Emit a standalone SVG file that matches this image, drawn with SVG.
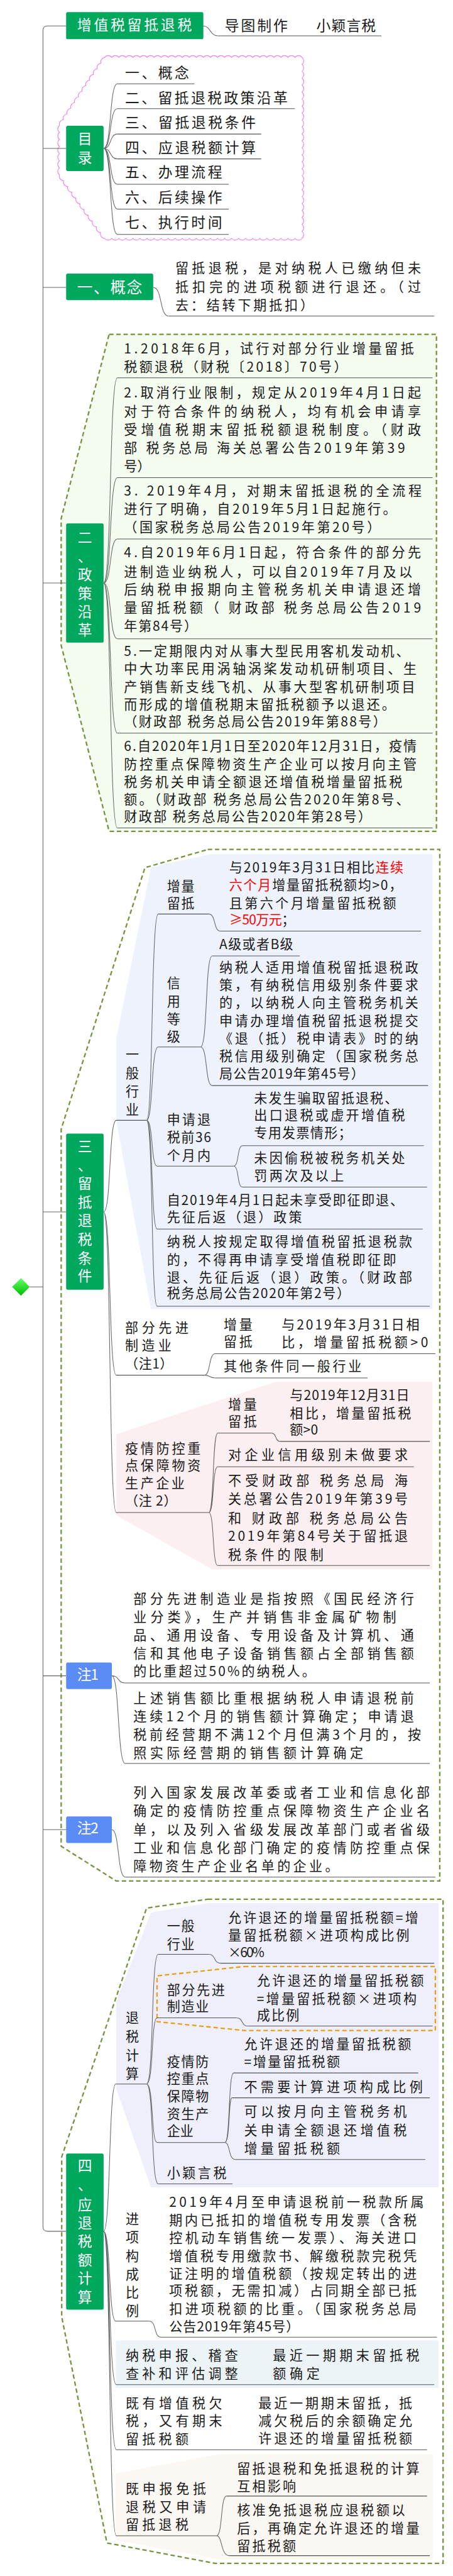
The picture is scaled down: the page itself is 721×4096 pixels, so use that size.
<svg xmlns="http://www.w3.org/2000/svg" width="721" height="4096" viewBox="0 0 721 4096">
<defs>
<style>
text{font-family:"Noto Sans CJK SC","Noto Sans",sans-serif;font-size:24px;fill:#1a1a1a}
.w{fill:#fff;font-size:26px}
.v{text-anchor:middle}
.s26{font-size:26px}
.red{fill:#f00}
.ul{stroke:#555;stroke-width:1.2;fill:none}
.cn{stroke:#666;stroke-width:1.2;fill:none}
.g{fill:#00A85E}
.b{fill:#5B8CF6}
.dash{fill:none;stroke:#76923C;stroke-width:2.6;stroke-dasharray:8 5}
</style>
<linearGradient id="dg" x1="0" y1="0" x2="0" y2="1"><stop offset="0" stop-color="#66ff66"/><stop offset="1" stop-color="#00bb00"/></linearGradient>
</defs>
<rect width="721" height="4096" fill="#fff"/>
<g transform="scale(0.8771)">

<g id="backgrounds">
<polygon class="dash" style="fill:#F4FBEF" points="198,606 792,606 792,1507 198,1507 111,1170 111,940"/>
<polygon class="dash" points="377,1540 798,1540 798,3410 211,3410 111,3347 111,2047 263,1573"/>
<polygon fill="#EEF2FC" points="385,1548 785,1548 785,2373 274,2373 211,2032 211,1883 274,1572"/>
<polygon fill="#FCEFF1" points="500,2505 785,2505 785,2845 385,2845 211,2747 211,2600"/>
<polygon class="dash" points="377,3443 804,3443 804,4647 390,4647 194,4610 112,4200 112,3910 266,3459"/>
<polygon fill="#EFEFFB" points="379,3450 796,3450 796,3965 274,3965 211,3787 211,3628 274,3467"/>
<rect x="210" y="4243" width="586" height="86" fill="#EDF4F8"/>
<polygon fill="#FBF7F2" points="398,4449 786,4449 786,4640 400,4640 210,4605 210,4484"/>
<polygon fill="none" stroke="#E5A01B" stroke-width="2.6" stroke-dasharray="8 5" points="443,3565 790,3565 790,3681 443,3681 285,3665 285,3582"/>
<path fill="none" stroke="#F080F0" stroke-width="1.3" d="M190,104a8 8 0 0 1 12.79 0a8 8 0 0 1 12.79 0a8 8 0 0 1 12.79 0a8 8 0 0 1 12.79 0a8 8 0 0 1 12.79 0a8 8 0 0 1 12.79 0a8 8 0 0 1 12.79 0a8 8 0 0 1 12.79 0a8 8 0 0 1 12.79 0a8 8 0 0 1 12.79 0a8 8 0 0 1 12.79 0a8 8 0 0 1 12.79 0a8 8 0 0 1 12.79 0a8 8 0 0 1 12.79 0a8 8 0 0 1 12.79 0a8 8 0 0 1 12.79 0a8 8 0 0 1 12.79 0a8 8 0 0 1 12.79 0a8 8 0 0 1 12.79 0a8 8 0 0 1 12.79 0a8 8 0 0 1 12.79 0a8 8 0 0 1 12.79 0a8 8 0 0 1 12.79 0a8 8 0 0 1 12.79 0a8 8 0 0 1 12.79 0a8 8 0 0 1 12.79 0a8 8 0 0 1 12.79 0a8 8 0 0 1 12.79 0a8 8 0 0 1 0 12.62a8 8 0 0 1 0 12.62a8 8 0 0 1 0 12.62a8 8 0 0 1 0 12.62a8 8 0 0 1 0 12.62a8 8 0 0 1 0 12.62a8 8 0 0 1 0 12.62a8 8 0 0 1 0 12.62a8 8 0 0 1 0 12.62a8 8 0 0 1 0 12.62a8 8 0 0 1 0 12.62a8 8 0 0 1 0 12.62a8 8 0 0 1 0 12.62a8 8 0 0 1 0 12.62a8 8 0 0 1 0 12.62a8 8 0 0 1 0 12.62a8 8 0 0 1 0 12.62a8 8 0 0 1 0 12.62a8 8 0 0 1 0 12.62a8 8 0 0 1 0 12.62a8 8 0 0 1 0 12.62a8 8 0 0 1 0 12.62a8 8 0 0 1 0 12.62a8 8 0 0 1 0 12.62a8 8 0 0 1 0 12.62a8 8 0 0 1 0 12.62a8 8 0 0 1 -12.79 0a8 8 0 0 1 -12.79 0a8 8 0 0 1 -12.79 0a8 8 0 0 1 -12.79 0a8 8 0 0 1 -12.79 0a8 8 0 0 1 -12.79 0a8 8 0 0 1 -12.79 0a8 8 0 0 1 -12.79 0a8 8 0 0 1 -12.79 0a8 8 0 0 1 -12.79 0a8 8 0 0 1 -12.79 0a8 8 0 0 1 -12.79 0a8 8 0 0 1 -12.79 0a8 8 0 0 1 -12.79 0a8 8 0 0 1 -12.79 0a8 8 0 0 1 -12.79 0a8 8 0 0 1 -12.79 0a8 8 0 0 1 -12.79 0a8 8 0 0 1 -12.79 0a8 8 0 0 1 -12.79 0a8 8 0 0 1 -12.79 0a8 8 0 0 1 -12.79 0a8 8 0 0 1 -12.79 0a8 8 0 0 1 -12.79 0a8 8 0 0 1 -12.79 0a8 8 0 0 1 -12.79 0a8 8 0 0 1 -12.79 0a8 8 0 0 1 -12.79 0a8 8 0 0 1 -7.45 -10.45a8 8 0 0 1 -7.45 -10.45a8 8 0 0 1 -7.45 -10.45a8 8 0 0 1 -7.45 -10.45a8 8 0 0 1 -7.45 -10.45a8 8 0 0 1 -7.45 -10.45a8 8 0 0 1 -7.45 -10.45a8 8 0 0 1 -7.45 -10.45a8 8 0 0 1 -7.45 -10.45a8 8 0 0 1 -7.45 -10.45a8 8 0 0 1 -7.45 -10.45a8 8 0 0 1 0 -12.86a8 8 0 0 1 0 -12.86a8 8 0 0 1 0 -12.86a8 8 0 0 1 0 -12.86a8 8 0 0 1 0 -12.86a8 8 0 0 1 0 -12.86a8 8 0 0 1 0 -12.86a8 8 0 0 1 6.83 -10.25a8 8 0 0 1 6.83 -10.25a8 8 0 0 1 6.83 -10.25a8 8 0 0 1 6.83 -10.25a8 8 0 0 1 6.83 -10.25a8 8 0 0 1 6.83 -10.25a8 8 0 0 1 6.83 -10.25a8 8 0 0 1 6.83 -10.25a8 8 0 0 1 6.83 -10.25a8 8 0 0 1 6.83 -10.25a8 8 0 0 1 6.83 -10.25a8 8 0 0 1 6.83 -10.25Z"/>
</g>

<g id="connectors">
<path class="cn" d="M120,47L86,47Q78,47 78,55L78,4037Q78,4045 86,4045L120,4045"/>
<path class="cn" d="M78,269H120M78,521H120M78,1057H120M78,2197H120M78,3038H120M78,3317H120M54,2333H78"/>
<path class="cn" d="M369,47C382,47 381,65 395,65"/>
<path class="cn" d="M188,269C203,269 198,152 213,152M188,269C203,269 198,197 213,197M188,269C203,269 198,243 213,243M188,269C203,269 198,288 213,288M188,269C203,269 198,334 213,334M188,269C203,269 198,379 213,379M188,269C203,269 198,425 213,425"/>
<path class="cn" d="M278,521C295,521 289,573 306,573"/>
<path class="cn" d="M188,1057C203,1057 198,685 213,685M188,1057C203,1057 198,866 213,866M188,1057C203,1057 198,977 213,977M188,1057C203,1057 198,1158 213,1158M188,1057C203,1057 198,1329 213,1329M188,1057C203,1057 198,1501 213,1501"/>
<path class="cn" d="M188,2197C202,2197 197,2031 211,2031M188,2197C202,2197 197,2493 211,2493M188,2197C202,2197 197,2742 211,2742"/>
<path class="cn" d="M266,2031C278,2031 274,1657 287,1657M266,2031C278,2031 274,1898 287,1898M266,2031C278,2031 274,2114 285,2114M266,2031C278,2031 274,2228 285,2228M266,2031C278,2031 274,2368 285,2368"/>
<path class="cn" d="M379,1657C392,1657 387,1688 400,1688"/>
<path class="cn" d="M364,1898C377,1898 372,1733 385,1733M364,1898C377,1898 372,1968 385,1968"/>
<path class="cn" d="M424,2114C434,2114 430,2077 440,2077M424,2114C434,2114 430,2152 440,2152"/>
<path class="cn" d="M371,2493C382,2493 379,2454 390,2454M371,2493C382,2493 379,2498 390,2498"/>
<path class="cn" d="M379,2742C389,2742 385,2598 395,2598M379,2742C389,2742 385,2659 395,2659M379,2742C389,2742 385,2838 395,2838"/>
<path class="cn" d="M493,2598C502,2598 499,2613 508,2613"/>
<path class="cn" d="M203,3038C217,3038 213,3051 227,3051M203,3038C217,3038 213,3197 227,3197"/>
<path class="cn" d="M203,3317C217,3317 213,3403 227,3403"/>
<path class="cn" d="M188,4045C201,4045 197,3778 210,3778M188,4045C201,4045 197,4208 210,4208M188,4045C201,4045 197,4323 211,4323M188,4045C201,4045 197,4441 211,4441M188,4045C201,4045 197,4597 211,4597"/>
<path class="cn" d="M266,3778C279,3778 274,3543 287,3543M266,3778C279,3778 274,3658 285,3658M266,3778C279,3778 274,3884 285,3884M266,3778C279,3778 274,3959 287,3959"/>
<path class="cn" d="M379,3543C392,3543 387,3559 400,3559"/>
<path class="cn" d="M429,3658C442,3658 437,3673 450,3673"/>
<path class="cn" d="M408,3884C418,3884 414,3758 424,3758M408,3884C418,3884 414,3803 421,3803M408,3884C418,3884 414,3915 427,3915"/>
<path class="cn" d="M271,4208C284,4208 279,4237 292,4237"/>
<path class="cn" d="M393,4597C404,4597 400,4525 411,4525M393,4597C404,4597 400,4633 416,4633"/>
</g>

<g id="root"><polygon points="38,2317 54,2333 38,2349 22,2333" fill="url(#dg)"/></g>

<g id="title">
<rect class="g" x="120" y="22" width="249" height="49" rx="3"/>
<text class="w" x="140" y="55" textLength="208">增值税留抵退税</text>
</g>
<g id="author">
<path class="ul" d="M395,65H692"/>
<text class="s26" x="408" y="56" textLength="114">导图制作</text>
<text class="s26" x="574" y="56" textLength="108">小颖言税</text>
</g>

<g id="toc">
<rect class="g" x="120" y="228" width="68" height="82" rx="3"/>
<text class="w v" x="154" y="261">目</text>
<text class="w v" x="154" y="295">录</text>
</g>
<g id="toc-items">
<path class="ul" d="M213,152H353M213,197H535M213,243H474M213,288H474M213,334H415M213,379H415M213,425H415"/>
<text class="s26" x="227" y="141" textLength="116">一、概念</text>
<text class="s26" x="227" y="187" textLength="295">二、留抵退税政策沿革</text>
<text class="s26" x="227" y="232" textLength="237">三、留抵退税条件</text>
<text class="s26" x="227" y="277" textLength="237">四、应退税额计算</text>
<text class="s26" x="227" y="322" textLength="176">五、办理流程</text>
<text class="s26" x="227" y="367" textLength="176">六、后续操作</text>
<text class="s26" x="227" y="413" textLength="176">七、执行时间</text>
</g>

<g id="s1">
<rect class="g" x="120" y="496" width="158" height="48" rx="3"/>
<text class="w" style="font-size:28px" x="140" y="531" textLength="118">一、概念</text>
</g>
<g id="s1-def">
<path class="ul" d="M306,573H788"/>
<text x="318" y="495" textLength="446">留抵退税，是对纳税人已缴纳但未</text>
<text x="318" y="529" textLength="446">抵扣完的进项税额进行退还。（过</text>
<text x="318" y="562" textLength="251">去：结转下期抵扣）</text>
</g>

<g id="s2">
<rect class="g" x="120" y="949" width="68" height="216" rx="3"/>
<text class="w v" x="154" y="984">二</text>
<text class="w v" x="154" y="1018">、</text>
<text class="w v" x="154" y="1051">政</text>
<text class="w v" x="154" y="1085">策</text>
<text class="w v" x="154" y="1118">沿</text>
<text class="w v" x="154" y="1152">革</text>
</g>
<g id="s2-items">
<path class="ul" d="M213,685H785M213,866H785M213,977H785M213,1158H785M213,1329H785M213,1501H785"/>
<text x="225" y="641" textLength="526">1.2018年6月，试行对部分行业增量留抵</text>
<text x="225" y="674" textLength="405">税额退税（财税〔2018〕70号）</text>
<text x="225" y="721" textLength="539">2.取消行业限制，规定从2019年4月1日起</text>
<text x="225" y="755" textLength="539">对于符合条件的纳税人，均有机会申请享</text>
<text x="225" y="788" textLength="539">受增值税期末留抵税额退税制度。（财政</text>
<text x="225" y="821" textLength="510">部 税务总局 海关总署公告2019年第39</text>
<text x="225" y="854">号）</text>
<text x="225" y="898" textLength="540">3. 2019年4月，对期末留抵退税的全流程</text>
<text x="225" y="932" textLength="494">进行了明确，自2019年5月1日起施行。</text>
<text x="225" y="965" textLength="465">（国家税务总局公告2019年第20号）</text>
<text x="225" y="1010" textLength="539">4.自2019年6月1日起，符合条件的部分先</text>
<text x="225" y="1045" textLength="523">进制造业纳税人，可以自2019年7月及以</text>
<text x="225" y="1078" textLength="539">后纳税申报期向主管税务机关申请退还增</text>
<text x="225" y="1111" textLength="539">量留抵税额（ 财政部 税务总局公告2019</text>
<text x="225" y="1143" textLength="133">年第84号）</text>
<text x="225" y="1189" textLength="518">5.一定期限内对从事大型民用客机发动机、</text>
<text x="225" y="1221" textLength="531">中大功率民用涡轴涡桨发动机研制项目、生</text>
<text x="225" y="1254" textLength="528">产销售新支线飞机、从事大型客机研制项目</text>
<text x="225" y="1286" textLength="492">而形成的增值税期末留抵税额予以退还。</text>
<text x="225" y="1317" textLength="476">（财政部 税务总局公告2019年第88号）</text>
<text x="225" y="1361" textLength="531">6.自2020年1月1日至2020年12月31日，疫情</text>
<text x="225" y="1394" textLength="531">防控重点保障物资生产企业可以按月向主管</text>
<text x="225" y="1426" textLength="505">税务机关申请全额退还增值税增量留抵税</text>
<text x="225" y="1458" textLength="518">额。（财政部 税务总局公告2020年第8号、</text>
<text x="225" y="1489" textLength="449">财政部 税务总局公告2020年第28号）</text>
</g>

<g id="s3">
<rect class="g" x="120" y="2055" width="68" height="283" rx="3"/>
<text class="w v" x="154" y="2088">三</text>
<text class="w v" x="154" y="2122">、</text>
<text class="w v" x="154" y="2155">留</text>
<text class="w v" x="154" y="2189">抵</text>
<text class="w v" x="154" y="2222">退</text>
<text class="w v" x="154" y="2256">税</text>
<text class="w v" x="154" y="2290">条</text>
<text class="w v" x="154" y="2323">件</text>
</g>
<g id="s3-general">
<path class="ul" d="M211,2031H266"/>
<text class="v" x="240" y="1920">一</text>
<text class="v" x="240" y="1954">般</text>
<text class="v" x="240" y="1987">行</text>
<text class="v" x="240" y="2020">业</text>
</g>
<g id="s3-g-incr">
<path class="ul" d="M287,1657H379"/>
<text x="303" y="1615" textLength="50">增量</text>
<text x="303" y="1646" textLength="50">留抵</text>
</g>
<g id="s3-g-incr-rule">
<path class="ul" d="M400,1688H764"/>
<text x="416" y="1581" textLength="316">与2019年3月31日相比<tspan class="red">连续</tspan></text>
<text x="416" y="1613" textLength="314"><tspan class="red">六个月</tspan>增量留抵税额均&gt;0，</text>
<text x="416" y="1646" textLength="303">且第六个月增量留抵税额</text>
<text x="416" y="1676" textLength="119"><tspan class="red">≥50万元</tspan>；</text>
</g>
<g id="s3-g-credit">
<path class="ul" d="M287,1898H364"/>
<text class="v" x="315" y="1791">信</text>
<text class="v" x="315" y="1824">用</text>
<text class="v" x="315" y="1856">等</text>
<text class="v" x="315" y="1888">级</text>
</g>
<g id="s3-g-credit-ab">
<path class="ul" d="M385,1733H544"/>
<text x="398" y="1720" textLength="134">A级或者B级</text>
</g>
<g id="s3-g-credit-note">
<path class="ul" d="M385,1968H777"/>
<text x="398" y="1763" textLength="361">纳税人适用增值税留抵退税政</text>
<text x="398" y="1795" textLength="361">策，有纳税信用级别条件要求</text>
<text x="398" y="1826" textLength="361">的，以纳税人向主管税务机关</text>
<text x="398" y="1860" textLength="361">申请办理增值税留抵退税提交</text>
<text x="398" y="1891" textLength="361">《退（抵）税申请表》时的纳</text>
<text x="398" y="1923" textLength="361">税信用级别确定（国家税务总</text>
<text x="398" y="1955" textLength="263">局公告2019年第45号）</text>
</g>
<g id="s3-g-36m">
<path class="ul" d="M285,2114H424"/>
<text x="303" y="2038" textLength="79">申请退</text>
<text x="303" y="2070" textLength="80">税前36</text>
<text x="303" y="2103" textLength="79">个月内</text>
</g>
<g id="s3-g-36m-a">
<path class="ul" d="M440,2077H769"/>
<text x="461" y="2000" textLength="261">未发生骗取留抵退税、</text>
<text x="461" y="2031" textLength="274">出口退税或虚开增值税</text>
<text x="461" y="2063" textLength="177">专用发票情形；</text>
</g>
<g id="s3-g-36m-b">
<path class="ul" d="M440,2152H775"/>
<text x="461" y="2108" textLength="274">未因偷税被税务机关处</text>
<text x="461" y="2140" textLength="163">罚两次及以上</text>
</g>
<g id="s3-g-policy">
<path class="ul" d="M285,2228H767"/>
<text x="303" y="2185" textLength="429">自2019年4月1日起未享受即征即退、</text>
<text x="303" y="2215" textLength="245">先征后返（退）政策</text>
</g>
<g id="s3-g-after">
<path class="ul" d="M285,2368H780"/>
<text x="303" y="2260" textLength="445">纳税人按规定取得增值税留抵退税款</text>
<text x="303" y="2293" textLength="416">的，不得再申请享受增值税即征即</text>
<text x="303" y="2325" textLength="445">退、先征后返（退）政策。（财政部</text>
<text x="303" y="2353" textLength="332">税务总局公告2020年第2号）</text>
</g>
<g id="s3-adv">
<path class="ul" d="M211,2493H371"/>
<text x="227" y="2416" textLength="115">部分先进</text>
<text x="227" y="2448" textLength="84">制造业</text>
<text x="227" y="2481" textLength="87">（注1）</text>
</g>
<g id="s3-adv-incr">
<path class="ul" d="M390,2454H790"/>
<text x="406" y="2410" textLength="52">增量</text>
<text x="406" y="2441" textLength="52">留抵</text>
<text x="511" y="2410" textLength="250">与2019年3月31日相</text>
<text x="511" y="2442" textLength="266">比，增量留抵税额&gt;0</text>
</g>
<g id="s3-adv-other">
<path class="ul" d="M390,2498H667"/>
<text x="406" y="2486" textLength="250">其他条件同一般行业</text>
</g>
<g id="s3-epi">
<path class="ul" d="M211,2742H379"/>
<text x="227" y="2635" textLength="137">疫情防控重</text>
<text x="227" y="2666" textLength="137">点保障物资</text>
<text x="227" y="2698" textLength="108">生产企业</text>
<text x="227" y="2730" textLength="94">（注 2）</text>
</g>
<g id="s3-epi-incr">
<path class="ul" d="M395,2598H493"/>
<text x="414" y="2555" textLength="52">增量</text>
<text x="414" y="2586" textLength="52">留抵</text>
</g>
<g id="s3-epi-incr-rule">
<path class="ul" d="M508,2613H780"/>
<text x="526" y="2538" textLength="217">与2019年12月31日</text>
<text x="526" y="2571" textLength="220">相比，增量留抵税</text>
<text x="526" y="2601" textLength="51">额&gt;0</text>
</g>
<g id="s3-epi-credit">
<path class="ul" d="M395,2659H751"/>
<text x="414" y="2646" textLength="326">对企业信用级别未做要求</text>
</g>
<g id="s3-epi-limit">
<path class="ul" d="M395,2838H780"/>
<text x="414" y="2693" textLength="326">不受财政部 税务总局 海</text>
<text x="414" y="2726" textLength="326">关总署公告2019年第39号</text>
<text x="414" y="2761" textLength="326">和 财政部 税务总局公告</text>
<text x="414" y="2793" textLength="326">2019年第84号关于留抵退</text>
<text x="414" y="2828" textLength="173">税条件的限制</text>
</g>

<g id="note1">
<rect class="b" x="120" y="3014" width="83" height="48" rx="3"/>
<text class="w" x="140" y="3045" textLength="39">注1</text>
</g>
<g id="note1-a">
<path class="ul" d="M227,3051H780"/>
<text x="242" y="2907" textLength="509">部分先进制造业是指按照《国民经济行</text>
<text x="242" y="2940" textLength="477">业分类》，生产并销售非金属矿物制</text>
<text x="242" y="2973" textLength="509">品、通用设备、专用设备及计算机、通</text>
<text x="242" y="3006" textLength="509">信和其他电子设备销售额占全部销售额</text>
<text x="242" y="3039" textLength="330">的比重超过50%的纳税人。</text>
</g>
<g id="note1-b">
<path class="ul" d="M227,3197H780"/>
<text x="242" y="3087" textLength="509">上述销售额比重根据纳税人申请退税前</text>
<text x="242" y="3121" textLength="509">连续12个月的销售额计算确定；申请退</text>
<text x="242" y="3154" textLength="522">税前经营期不满12个月但满3个月的，按</text>
<text x="242" y="3187" textLength="417">照实际经营期的销售额计算确定</text>
</g>
<g id="note2">
<rect class="b" x="120" y="3293" width="83" height="48" rx="3"/>
<text class="w" x="140" y="3324" textLength="39">注2</text>
</g>
<g id="note2-a">
<path class="ul" d="M227,3403H790"/>
<text x="242" y="3259" textLength="538">列入国家发展改革委或者工业和信息化部</text>
<text x="242" y="3292" textLength="538">确定的疫情防控重点保障物资生产企业名</text>
<text x="242" y="3326" textLength="538">单，以及列入省级发展改革部门或者省级</text>
<text x="242" y="3359" textLength="538">工业和信息化部门确定的疫情防控重点保</text>
<text x="242" y="3392" textLength="372">障物资生产企业名单的企业。</text>
</g>

<g id="s4">
<rect class="g" x="120" y="3904" width="68" height="283" rx="3"/>
<text class="w v" x="154" y="3936">四</text>
<text class="w v" x="154" y="3970">、</text>
<text class="w v" x="154" y="4006">应</text>
<text class="w v" x="154" y="4040">退</text>
<text class="w v" x="154" y="4073">税</text>
<text class="w v" x="154" y="4107">额</text>
<text class="w v" x="154" y="4140">计</text>
<text class="w v" x="154" y="4174">算</text>
</g>
<g id="s4-calc">
<path class="ul" d="M210,3778H266"/>
<text class="v" x="240" y="3667">退</text>
<text class="v" x="240" y="3701">税</text>
<text class="v" x="240" y="3735">计</text>
<text class="v" x="240" y="3768">算</text>
</g>
<g id="s4-calc-general">
<path class="ul" d="M287,3543H379"/>
<text x="303" y="3500" textLength="50">一般</text>
<text x="303" y="3533" textLength="50">行业</text>
</g>
<g id="s4-calc-general-f">
<path class="ul" d="M400,3559H788"/>
<text x="414" y="3485" textLength="345">允许退还的增量留抵税额=增</text>
<text x="414" y="3517" textLength="329">量留抵税额×进项构成比例</text>
<text x="414" y="3548" textLength="66">×60%</text>
</g>
<g id="s4-calc-adv">
<path class="ul" d="M285,3658H429"/>
<text x="303" y="3616" textLength="105">部分先进</text>
<text x="303" y="3646" textLength="76">制造业</text>
</g>
<g id="s4-calc-adv-f">
<path class="ul" d="M450,3673H785"/>
<text x="466" y="3599" textLength="303">允许退还的增量留抵税额</text>
<text x="466" y="3632" textLength="290">=增量留抵税额×进项构</text>
<text x="466" y="3662" textLength="77">成比例</text>
</g>
<g id="s4-calc-epi">
<path class="ul" d="M285,3884H408"/>
<text x="303" y="3746" textLength="76">疫情防</text>
<text x="303" y="3777" textLength="76">控重点</text>
<text x="303" y="3809" textLength="76">保障物</text>
<text x="303" y="3841" textLength="76">资生产</text>
<text x="303" y="3872">企业</text>
</g>
<g id="s4-calc-epi-a">
<path class="ul" d="M424,3758H759"/>
<text x="443" y="3714" textLength="303">允许退还的增量留抵税额</text>
<text x="443" y="3746" textLength="174">=增量留抵税额</text>
</g>
<g id="s4-calc-epi-b">
<path class="ul" d="M421,3803H780"/>
<text x="443" y="3792" textLength="324">不需要计算进项构成比例</text>
</g>
<g id="s4-calc-epi-c">
<path class="ul" d="M427,3915H772"/>
<text x="443" y="3836" textLength="295">可以按月向主管税务机</text>
<text x="443" y="3871" textLength="295">关申请全额退还增值税</text>
<text x="443" y="3904" textLength="174">增量留抵税额</text>
</g>
<g id="s4-calc-brand">
<path class="ul" d="M287,3959H422"/>
<text x="303" y="3948" textLength="108">小颖言税</text>
</g>
<g id="s4-ratio">
<path class="ul" d="M210,4208H271"/>
<text class="v" x="240" y="4031">进</text>
<text class="v" x="240" y="4065">项</text>
<text class="v" x="240" y="4099">构</text>
<text class="v" x="240" y="4132">成</text>
<text class="v" x="240" y="4165">比</text>
<text class="v" x="240" y="4198">例</text>
</g>
<g id="s4-ratio-def">
<path class="ul" d="M292,4237H793"/>
<text x="307" y="4001" textLength="462">2019年4月至申请退税前一税款所属</text>
<text x="307" y="4034" textLength="449">期内已抵扣的增值税专用发票（含税</text>
<text x="307" y="4066" textLength="449">控机动车销售统一发票）、海关进口</text>
<text x="307" y="4099" textLength="449">增值税专用缴款书、解缴税款完税凭</text>
<text x="307" y="4131" textLength="449">证注明的增值税额（按规定转出的进</text>
<text x="307" y="4162" textLength="449">项税额，无需扣减）占同期全部已抵</text>
<text x="307" y="4194" textLength="449">扣进项税额的比重。（国家税务总局</text>
<text x="307" y="4226" textLength="236">公告2019年第45号）</text>
</g>
<g id="s4-audit">
<path class="ul" d="M211,4323H788"/>
<text x="228" y="4279" textLength="204">纳税申报、稽查</text>
<text x="228" y="4312" textLength="204">查补和评估调整</text>
<text x="495" y="4279" textLength="266">最近一期期末留抵税</text>
<text x="495" y="4312" textLength="85">额确定</text>
</g>
<g id="s4-arrears">
<path class="ul" d="M211,4441H775"/>
<text x="228" y="4366" textLength="175">既有增值税欠</text>
<text x="228" y="4397" textLength="175">税，又有期末</text>
<text x="228" y="4431" textLength="114">留抵税额</text>
<text x="469" y="4366" textLength="279">最近一期期末留抵，抵</text>
<text x="469" y="4397" textLength="279">减欠税后的余额确定允</text>
<text x="469" y="4429" textLength="279">许退还的增量留抵税额</text>
</g>
<g id="s4-exempt">
<path class="ul" d="M211,4597H393"/>
<text x="228" y="4521" textLength="146">既申报免抵</text>
<text x="228" y="4554" textLength="146">退税又申请</text>
<text x="228" y="4586" textLength="114">留抵退税</text>
</g>
<g id="s4-exempt-a">
<path class="ul" d="M411,4525H775"/>
<text x="430" y="4484" textLength="331">留抵退税和免抵退税的计算</text>
<text x="430" y="4516" textLength="107">互相影响</text>
</g>
<g id="s4-exempt-b">
<path class="ul" d="M416,4633H780"/>
<text x="430" y="4559" textLength="305">核准免抵退税应退税额以</text>
<text x="430" y="4592" textLength="331">后，再确定允许退还的增量</text>
<text x="430" y="4624" textLength="107">留抵税额</text>
</g>

</g>
</svg>
